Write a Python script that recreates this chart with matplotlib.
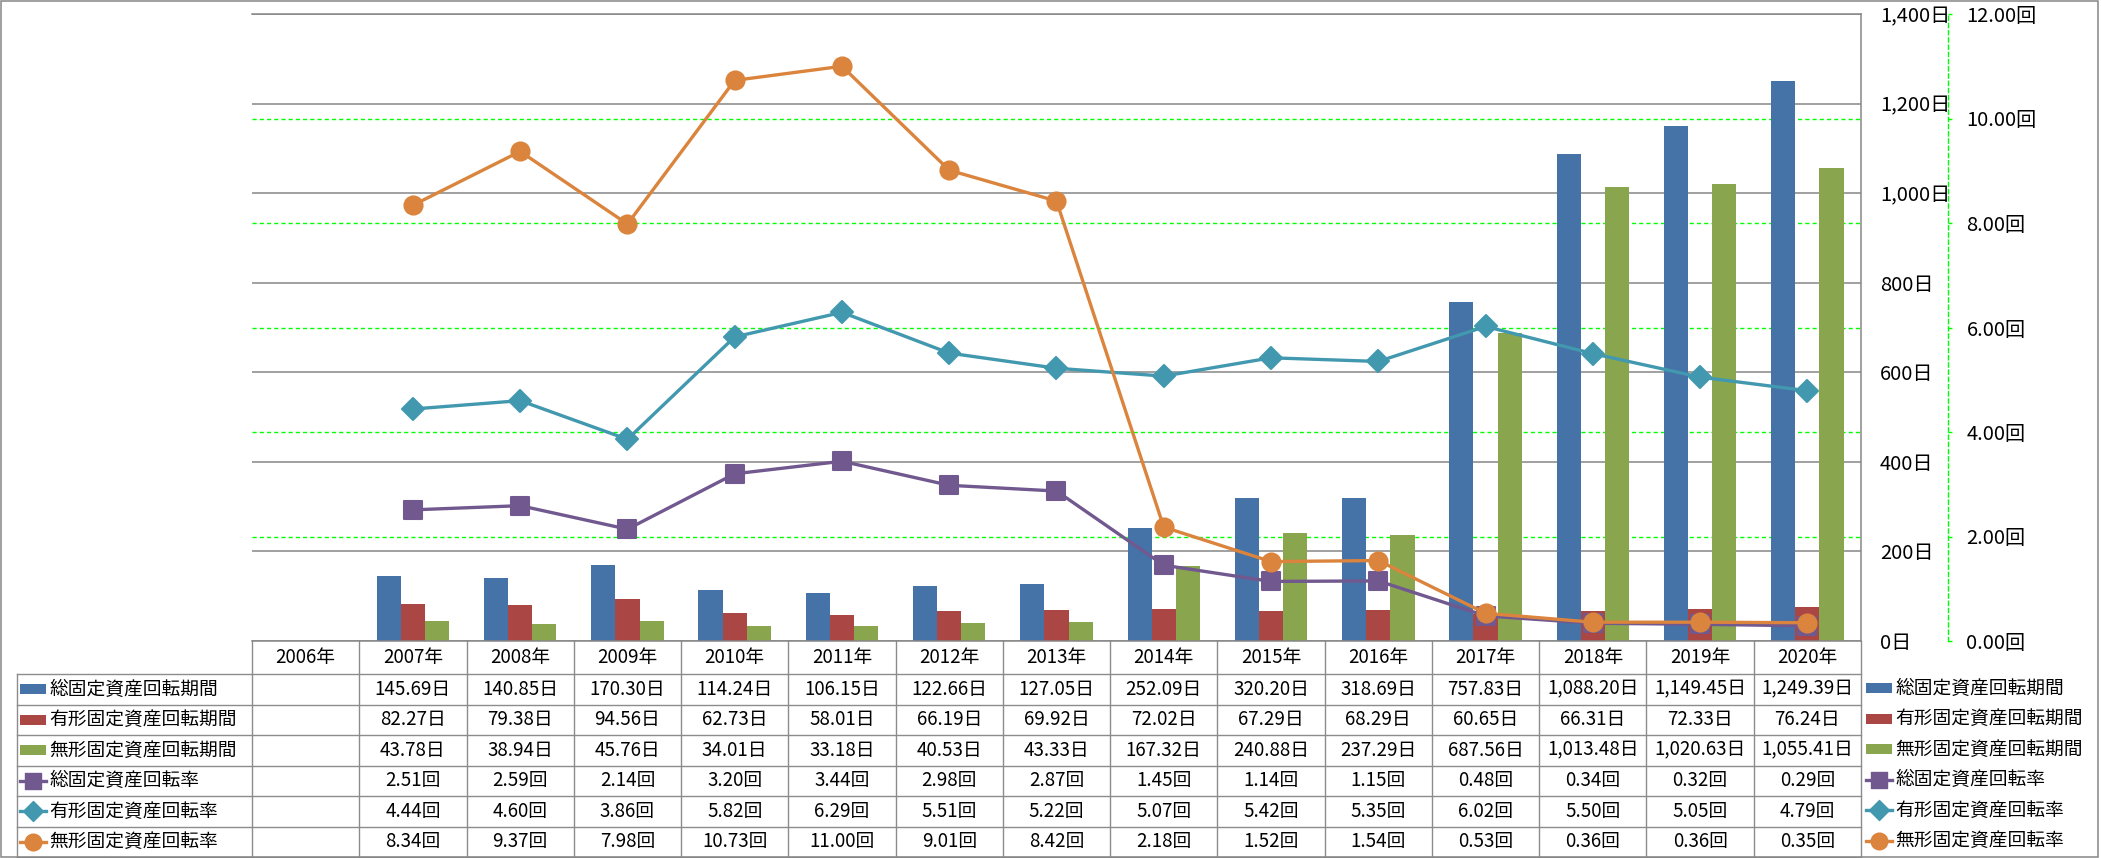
import numpy as np
import matplotlib
matplotlib.use("Agg")
import matplotlib.pyplot as plt
from matplotlib.patches import Rectangle
from matplotlib.markers import MarkerStyle

plt.rcParams['font.family'] = ['Noto Sans CJK JP', 'DejaVu Sans']

# ---------------- data ----------------
years = ["2006年", "2007年", "2008年", "2009年", "2010年", "2011年", "2012年", "2013年",
         "2014年", "2015年", "2016年", "2017年", "2018年", "2019年", "2020年"]
nan = np.nan
total_days = [nan, 145.69, 140.85, 170.30, 114.24, 106.15, 122.66, 127.05, 252.09, 320.20,
              318.69, 757.83, 1088.20, 1149.45, 1249.39]
tangible_days = [nan, 82.27, 79.38, 94.56, 62.73, 58.01, 66.19, 69.92, 72.02, 67.29,
                 68.29, 60.65, 66.31, 72.33, 76.24]
intangible_days = [nan, 43.78, 38.94, 45.76, 34.01, 33.18, 40.53, 43.33, 167.32, 240.88,
                   237.29, 687.56, 1013.48, 1020.63, 1055.41]
total_rate = [nan, 2.51, 2.59, 2.14, 3.20, 3.44, 2.98, 2.87, 1.45, 1.14, 1.15, 0.48, 0.34, 0.32, 0.29]
tangible_rate = [nan, 4.44, 4.60, 3.86, 5.82, 6.29, 5.51, 5.22, 5.07, 5.42, 5.35, 6.02, 5.50, 5.05, 4.79]
intangible_rate = [nan, 8.34, 9.37, 7.98, 10.73, 11.00, 9.01, 8.42, 2.18, 1.52, 1.54, 0.53, 0.36, 0.36, 0.35]

bar_names = ["総固定資産回転期間", "有形固定資産回転期間", "無形固定資産回転期間"]
line_names = ["総固定資産回転率", "有形固定資産回転率", "無形固定資産回転率"]
left_ticks = [0, 200, 400, 600, 800, 1000, 1200, 1400]
right_ticks = [0, 2, 4, 6, 8, 10, 12]

bar_colors = ["#4572A7", "#AA4643", "#89A54E"]
line_colors = ["#71588F", "#4198AF", "#DB843D"]
line_markers = ["s", "D", "o"]
line_msizes = [12.5, 11.5, 13]

# ---------------- layout ----------------
W, H = 2101, 858
fig = plt.figure(figsize=(W / 100, H / 100), dpi=100)
PL, PR, PT, PB = 252, 1861, 14, 641
TB = 857
CW = (PR - PL) / len(years)

def px2x(px):
    return -0.5 + (px - PL) / CW

rect = [PL / W, 1 - PB / H, (PR - PL) / W, (PB - PT) / H]
ax = fig.add_axes(rect)
ax_grid = ax.twinx()
ax2 = ax.twinx()
ax_grid.set_zorder(0)
ax.set_zorder(1)
ax2.set_zorder(2)
ax.patch.set_visible(False)
ax2.patch.set_visible(False)

x = np.arange(len(years))
ax.set_xlim(-0.5, len(years) - 0.5)

# bars
bw = 0.225
for k, (vals, c) in enumerate(zip([total_days, tangible_days, intangible_days], bar_colors)):
    ax.bar(x + (k - 1) * bw, vals, bw, color=c, zorder=2, linewidth=0)

ax.set_ylim(0, 1400)
ax.set_yticks(left_ticks)
ax.set_yticklabels([f"{v:,}日" for v in left_ticks])
ax.yaxis.tick_right()
ax.tick_params(axis='y', length=0, pad=13.5, labelsize=14.5)
ax.set_xticks([])
ax.yaxis.grid(True, color='#868686', linewidth=1.1)
ax.set_axisbelow(True)
ax.spines['left'].set_visible(False)
for s in ['right', 'bottom', 'top']:
    ax.spines[s].set_color('#868686')
    ax.spines[s].set_linewidth(1.1)

# secondary grid (behind bars)
ax_grid.set_ylim(0, 12)
ax_grid.set_yticks(right_ticks[1:-1])
ax_grid.yaxis.grid(True, color='#00FF00', linewidth=1.0, linestyle=(0, (3, 2.2)))
ax_grid.tick_params(axis='y', length=0, labelright=False, labelleft=False)
for s in ax_grid.spines.values():
    s.set_visible(False)

# lines
for vals, c, m, ms in zip([total_rate, tangible_rate, intangible_rate], line_colors, line_markers, line_msizes):
    ax2.plot(x, vals, color=c, linewidth=2.4,
             marker=MarkerStyle(m, joinstyle='round'), markersize=ms,
             markerfacecolor=c, markeredgecolor=c, markeredgewidth=1.5, zorder=3)
ax2.set_ylim(0, 12)
ax2.set_yticks(right_ticks)
ax2.set_yticklabels([f"{v:.2f}回" for v in right_ticks])
for s in ['top', 'left', 'bottom']:
    ax2.spines[s].set_visible(False)
ax2.spines['right'].set_position(('axes', (1947.7 - PL) / (PR - PL)))
ax2.spines['right'].set_color('#00FF00')
ax2.spines['right'].set_linewidth(1.0)
ax2.spines['right'].set_linestyle((0, (3, 2.2)))
ax2.tick_params(axis='y', direction='out', length=3, width=1.0, color='#00FF00',
                pad=10.5, labelsize=14.5)

# ---------------- data table ----------------
axt = fig.add_axes([PL / W, 1 - TB / H, (PR - PL) / W, (TB - PB) / H])
axt.set_xlim(-0.5, len(years) - 0.5)
axt.set_ylim(TB - PB, 0)
axt.axis('off')

row_edges = [0, 33, 63.5, 94, 124.5, 155, 185.5, 216]
gc = '#8C8C8C'
xl = px2x(16.7)
for ye in row_edges[1:]:
    axt.plot([xl, len(years) - 0.5], [ye, ye], color=gc, lw=1.0, clip_on=False)
for k in range(len(years) + 1):
    axt.plot([k - 0.5, k - 0.5], [0, 216], color=gc, lw=1.0, clip_on=False)
axt.plot([xl, xl], [33, 216], color=gc, lw=1.0, clip_on=False)

fs = 13.5
for i, yl in enumerate(years):
    axt.text(i, 16.5, yl, ha='center', va='center', fontsize=fs)

row_data = [total_days, tangible_days, intangible_days, total_rate, tangible_rate, intangible_rate]
for r, vals in enumerate(row_data):
    yc = (row_edges[r + 1] + row_edges[r + 2]) / 2
    unit = "日" if r < 3 else "回"
    for i, v in enumerate(vals):
        if np.isnan(v):
            continue
        s = f"{v:,.2f}{unit}"
        axt.text(i, yc, s, ha='center', va='center', fontsize=fs)

names = bar_names + line_names
def draw_key(r, kx0, kx1, yc):
    if r < 3:
        axt.add_patch(Rectangle((kx0, yc - 5), kx1 - kx0, 10, color=bar_colors[r],
                                clip_on=False, linewidth=0))
    else:
        j = r - 3
        axt.plot([kx0, kx1], [yc, yc], color=line_colors[j], lw=2.4, clip_on=False)
        axt.plot([(kx0 + kx1) / 2], [yc], marker=MarkerStyle(line_markers[j], joinstyle='round'),
                 markersize=line_msizes[j] - 1, color=line_colors[j], clip_on=False)

for r, nm in enumerate(names):
    yc = (row_edges[r + 1] + row_edges[r + 2]) / 2
    draw_key(r, px2x(20), px2x(45.7), yc)
    axt.text(px2x(49), yc, nm, ha='left', va='center', fontsize=fs)
    # right legend
    draw_key(r, px2x(1865.7), px2x(1891.7), yc - 1)
    axt.text(px2x(1895), yc - 1, nm, ha='left', va='center', fontsize=fs)

# outer border
fig.patches.append(Rectangle((1 / W, 1 - 857 / H), 2097 / W, 856 / H, transform=fig.transFigure,
                             fill=False, edgecolor='#868686', linewidth=1.1))

fig.savefig("out.png", dpi=100, facecolor='white')
